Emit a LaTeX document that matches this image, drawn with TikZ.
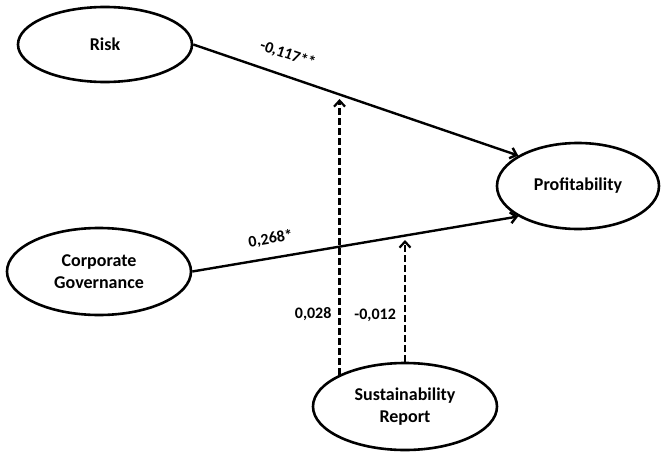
\documentclass[tikz,border=0pt]{standalone}
\usepackage{fontspec}
\setmainfont{Carlito}
\usetikzlibrary{arrows.meta,shapes.geometric}

\begin{document}
\begin{tikzpicture}[
    x=1pt, y=-1pt,
    construct/.style={ellipse, draw, line width=2.6pt, inner sep=1pt, align=center, font=\fontsize{18}{21.5}\selectfont\bfseries},
    effect/.style={draw, line width=2.4pt, -{Straight Barb[length=6pt,width=11pt]}},
    moderation/.style={effect, line width=2.2pt, dash pattern=on 6.5pt off 3.5pt},
    coef/.style={font=\fontsize{16}{18}\selectfont\bfseries, inner sep=0pt}
]
\useasboundingbox (0,0) rectangle (661,452);

\node[construct, minimum width=174pt, minimum height=75pt] (risk) at (105,44.5) {Risk};
\node[construct, minimum width=184pt, minimum height=87pt] (gov) at (99,271.5) {Corporate\\Governance};
\node[construct, minimum width=162pt, minimum height=86pt] (prof) at (578,186) {Profitability};
\node[construct, minimum width=184pt, minimum height=87pt] (sus) at (405,406.5) {Sustainability\\Report};

% Direct effects
\path[effect] (risk.east) -- (prof.153)
    node[coef, sloped, above=13pt, pos=0.27] (c-risk) {-0,117**};
\path[effect] (gov.east) -- (prof.207)
    node[coef, sloped, above=11pt, pos=0.25] (c-gov) {0,268*};

% Moderation
\coordinate (t-risk) at (340,99);
\coordinate (t-gov) at (406,240);
\path[moderation] (sus.154) -- (sus.154 |- t-risk)
    node[coef, pos=0.22, left=7pt] (m-risk) {0,028};
\path[moderation] (sus.north) -- (sus.north |- t-gov)
    node[coef, pos=0.385, left=8pt] (m-gov) {-0,012};

\end{tikzpicture}
\end{document}
